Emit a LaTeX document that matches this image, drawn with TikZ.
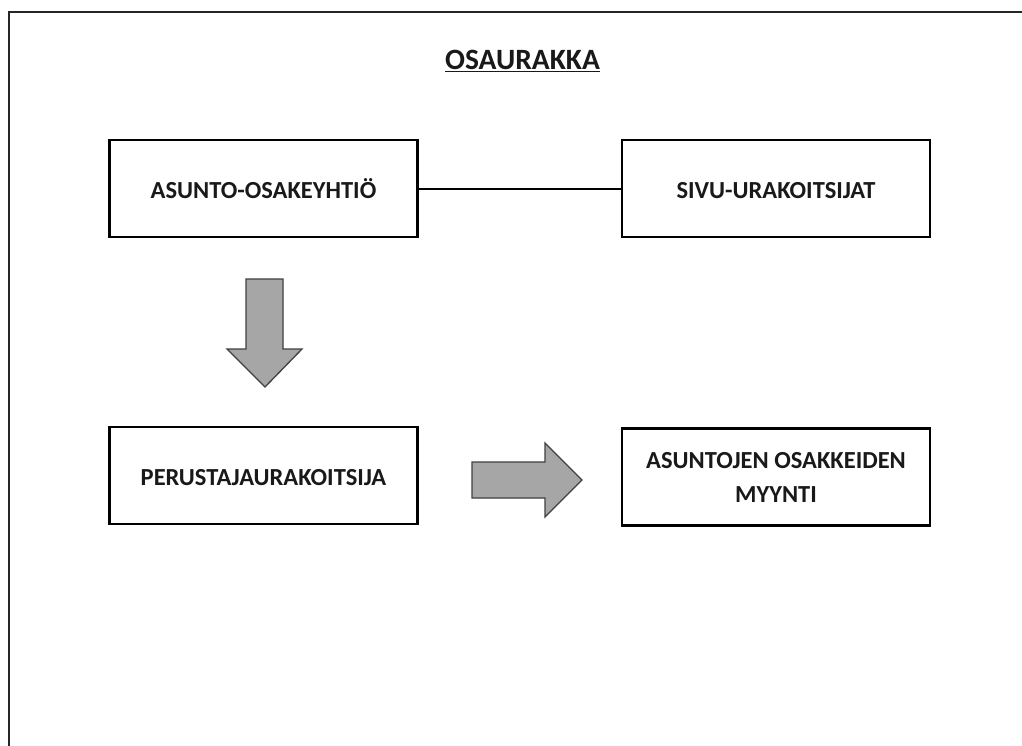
\documentclass[tikz,border=0pt]{standalone}
\usepackage{fontspec}
\setmainfont{Carlito}
\begin{document}
\begin{tikzpicture}[x=1pt,y=-1pt,
  box/.style={draw=black,line width=2.4pt,fill=white,minimum width=308pt,minimum height=97pt,inner sep=0pt,
    font=\fontsize{24.5}{34}\selectfont\bfseries,align=center,text=black!90},
  oneline/.style={text height=15.8pt,text depth=0pt},
  blockarrow/.style={draw=black!75,line width=1.3pt,fill=black!35,line join=miter},
  link/.style={draw=black,line width=2pt}]
\useasboundingbox (0,0) rectangle (1022,745);
\fill[white] (0,0) rectangle (1022,745);
% frame
\draw[line width=2pt,black!85] (9,746) -- (9,11.5) -- (1023,11.5);
% title
\node[font=\fontsize{29.5}{32}\selectfont\bfseries,text=black!90,inner sep=0pt] (title) at (522.5,61) {\underline{OSAURAKKA}};
% boxes
\node[box] (aoy) at (263.5,188.5) {};
\node[oneline,font=\fontsize{24.5}{34}\selectfont\bfseries,text=black!90,inner sep=0pt] (aoyt) at (263.5,190.5) {ASUNTO-OSAKEYHTIÖ};
\node[box] (sivu) at (776,188.5) {};
\node[oneline,font=\fontsize{24.5}{34}\selectfont\bfseries,text=black!90,inner sep=0pt] (sivut) at (776,190.5) {SIVU-URAKOITSIJAT};
\node[box] (per) at (263.5,475.5) {};
\node[oneline,font=\fontsize{24.5}{34}\selectfont\bfseries,text=black!90,inner sep=0pt] (pert) at (263.5,477.5) {PERUSTAJAURAKOITSIJA};
\node[box] (myy) at (776,477) {ASUNTOJEN OSAKKEIDEN\\MYYNTI};
% connector
\draw[link] (aoy.east) -- (sivu.west);
% down block arrow
\draw[blockarrow] (246,279) -- (283,279) -- (283,349) -- (302,349) -- (265,387) -- (227,349) -- (246,349) -- cycle;
% right block arrow
\draw[blockarrow] (472,462) -- (545,462) -- (545,443) -- (582,480) -- (545,517) -- (545,498) -- (472,498) -- cycle;
\end{tikzpicture}
\end{document}
